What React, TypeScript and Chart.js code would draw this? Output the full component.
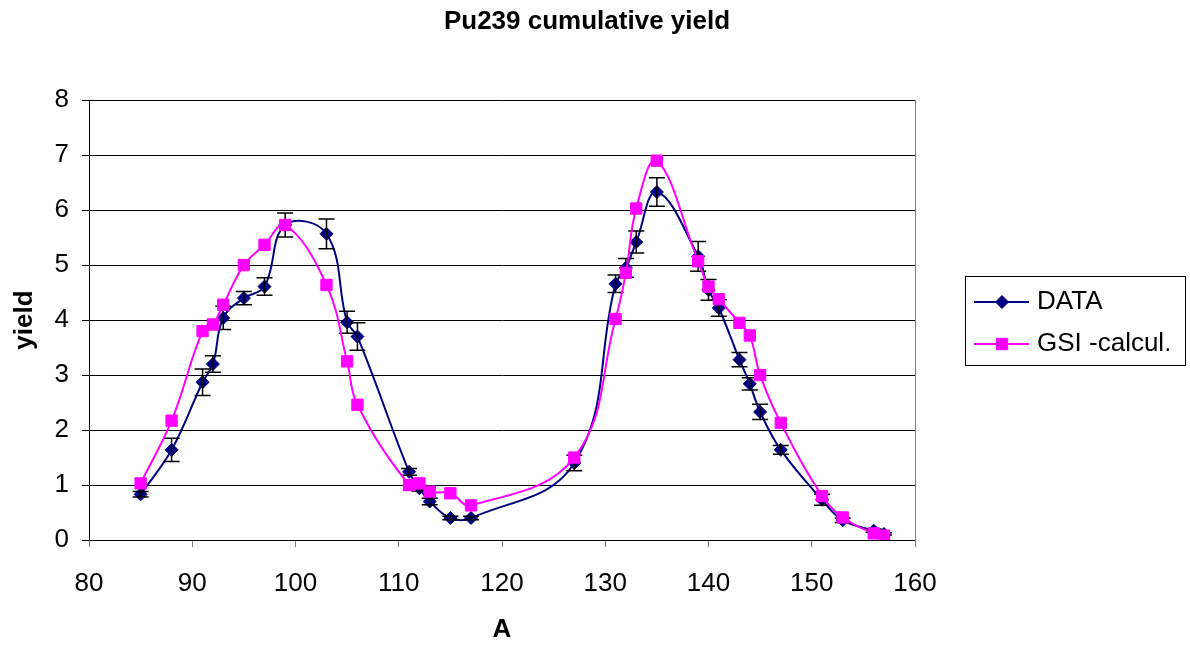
import { useEffect, useRef } from "react";
import { Chart, registerables } from "chart.js";

Chart.register(...registerables);

// ---- data ----
const massNumbers = [
  85, 88, 91, 92, 93, 95, 97, 99, 103, 105, 106, 111, 112, 113, 115, 117, 127,
  131, 132, 133, 135, 139, 140, 141, 143, 144, 145, 147, 151, 153, 156, 157,
];
const dataYield = [
  0.83, 1.64, 2.87, 3.2, 4.04, 4.4, 4.61, 5.73, 5.57, 3.96, 3.7, 1.24, 0.94, 0.7,
  0.4, 0.4, 1.4, 4.66, 4.95, 5.42, 6.33, 5.16, 4.55, 4.22, 3.28, 2.84, 2.33, 1.64,
  0.73, 0.36, 0.17, 0.11,
];
const dataError = [
  0.05, 0.21, 0.24, 0.15, 0.21, 0.12, 0.16, 0.22, 0.27, 0.2, 0.25, 0.06, 0.05,
  0.06, 0.03, 0.03, 0.14, 0.16, 0.17, 0.2, 0.26, 0.27, 0.19, 0.15, 0.13, 0.11,
  0.14, 0.08, 0.1, 0.04, 0.03, 0.02,
];
const gsiYield = [
  1.03, 2.17, 3.8, 3.92, 4.28, 5.0, 5.37, 5.73, 4.64, 3.25, 2.46, 1.0, 1.03, 0.88,
  0.85, 0.63, 1.5, 4.02, 4.86, 6.03, 6.9, 5.07, 4.61, 4.38, 3.95, 3.72, 3.0, 2.13,
  0.8, 0.41, 0.12, 0.08,
];
const seriesLabels = ["DATA", "GSI -calcul."];
const titleText = "Pu239 cumulative yield";
const xTitle = "A";
const yTitle = "yield";
const xMin = 80;
const xMax = 160;
const xStep = 10;
const yMin = 0;
const yMax = 8;
const yStep = 1;

const NAVY = "#000080";
const MAGENTA = "#FF00FF";
const FONT = "'Liberation Sans', Arial, sans-serif";

function drawMarker(ctx: CanvasRenderingContext2D, style: string, x: number, y: number, r: number, color: string) {
  ctx.save();
  ctx.fillStyle = color;
  ctx.strokeStyle = color;
  ctx.lineWidth = 1;
  ctx.beginPath();
  if (style === "rectRot") {
    ctx.moveTo(x - r, y);
    ctx.lineTo(x, y - r);
    ctx.lineTo(x + r, y);
    ctx.lineTo(x, y + r);
    ctx.closePath();
  } else {
    const s = Math.SQRT1_2 * r;
    ctx.rect(x - s, y - s, 2 * s, 2 * s);
  }
  ctx.fill();
  ctx.stroke();
  ctx.restore();
}

const errorBarPlugin = {
  id: "errorBars",
  afterDatasetDraw(chart: any, args: any) {
    if (args.index !== 0) return;
    const { ctx, scales } = chart;
    const xs = scales.x;
    const ys = scales.y;
    ctx.save();
    ctx.strokeStyle = "#000000";
    ctx.lineWidth = 1.5;
    massNumbers.forEach((a, i) => {
      const px = xs.getPixelForValue(a);
      const top = ys.getPixelForValue(dataYield[i] + dataError[i]);
      const bot = ys.getPixelForValue(dataYield[i] - dataError[i]);
      ctx.beginPath();
      ctx.moveTo(px, top);
      ctx.lineTo(px, bot);
      ctx.moveTo(px - 8, top);
      ctx.lineTo(px + 8, top);
      ctx.moveTo(px - 8, bot);
      ctx.lineTo(px + 8, bot);
      ctx.stroke();
    });
    ctx.restore();
  },
};

const boxLegendPlugin = {
  id: "boxLegend",
  afterDraw(chart: any) {
    const { ctx, chartArea } = chart;
    const x0 = Math.round(chartArea.right) + 50;
    const y0 = 276;
    const w = 220;
    const h = 89;
    ctx.save();
    ctx.fillStyle = "#ffffff";
    ctx.fillRect(x0, y0, w, h);
    ctx.strokeStyle = "#000000";
    ctx.lineWidth = 1;
    ctx.strokeRect(x0 + 0.5, y0 + 0.5, w, h);
    chart.data.datasets.forEach((ds: any, i: number) => {
      const cy = y0 + 26 + i * 42;
      ctx.strokeStyle = ds.borderColor;
      ctx.lineWidth = 2;
      ctx.beginPath();
      ctx.moveTo(x0 + 9, cy);
      ctx.lineTo(x0 + 64, cy);
      ctx.stroke();
      drawMarker(ctx, ds.pointStyle, x0 + 37, cy, ds.pointRadius, ds.backgroundColor);
      ctx.fillStyle = "#000000";
      ctx.font = `26px ${FONT}`;
      ctx.textAlign = "left";
      ctx.textBaseline = "middle";
      ctx.fillText(ds.label, x0 + 72, cy);
    });
    ctx.restore();
  },
};

export default function App() {
  const canvasRef = useRef<HTMLCanvasElement | null>(null);

  useEffect(() => {
    document.body.style.margin = "0";
    const canvas = canvasRef.current;
    if (!canvas) return;
    const chart = new Chart(canvas, {
      type: "line",
      data: {
        datasets: [
          {
            label: seriesLabels[0],
            data: massNumbers.map((a, i) => ({ x: a, y: dataYield[i] })),
            borderColor: NAVY,
            backgroundColor: NAVY,
            borderWidth: 2,
            pointStyle: "rectRot",
            pointRadius: 6.5,
            pointBorderWidth: 1,
            tension: 0.4,
            fill: false,
            order: 2,
          },
          {
            label: seriesLabels[1],
            data: massNumbers.map((a, i) => ({ x: a, y: gsiYield[i] })),
            borderColor: MAGENTA,
            backgroundColor: MAGENTA,
            borderWidth: 2,
            pointStyle: "rect",
            pointRadius: 8,
            pointBorderWidth: 1,
            tension: 0.4,
            fill: false,
            order: 1,
          },
        ],
      },
      options: {
        responsive: false,
        animation: false,
        devicePixelRatio: 1,
        layout: { padding: { left: 0, right: 16, top: 0, bottom: 0 } },
        plugins: {
          legend: { display: false },
          tooltip: { enabled: false },
          title: {
            display: true,
            text: titleText,
            color: "#000000",
            font: { family: FONT, size: 26, weight: "bold" },
            padding: { top: 6, bottom: 63 },
          },
        },
        scales: {
          x: {
            type: "linear",
            position: "bottom",
            min: xMin,
            max: xMax,
            afterFit(scale: any) {
              scale.height = 106;
            },
            ticks: {
              stepSize: xStep,
              color: "#000000",
              font: { family: FONT, size: 26 },
              padding: 21,
              maxRotation: 0,
            },
            grid: {
              drawOnChartArea: false,
              tickLength: 7,
              color: "#808080",
            },
            border: { color: "#000000", width: 1 },
            title: {
              display: true,
              text: xTitle,
              color: "#000000",
              font: { family: FONT, size: 26, weight: "bold" },
              padding: { top: 0, bottom: 1 },
            },
          },
          y: {
            type: "linear",
            position: "left",
            min: yMin,
            max: yMax,
            afterFit(scale: any) {
              scale.width = 89;
            },
            ticks: {
              stepSize: yStep,
              color: "#000000",
              font: { family: FONT, size: 26 },
              padding: 13,
            },
            grid: {
              color: "#000000",
              tickLength: 7,
              lineWidth: 1,
            },
            border: { color: "#000000", width: 1 },
            title: {
              display: true,
              text: yTitle,
              color: "#000000",
              font: { family: FONT, size: 26, weight: "bold" },
              padding: { top: 9, bottom: 0 },
            },
          },
          yRight: {
            type: "linear",
            position: "right",
            display: true,
            afterFit(scale: any) {
              scale.width = 259;
            },
            ticks: { display: false },
            grid: { display: false, drawTicks: false },
            border: { display: true, color: "#808080", width: 1 },
          },
        },
      },
      plugins: [errorBarPlugin, boxLegendPlugin],
    } as any);
    return () => chart.destroy();
  }, []);

  return (
    <div style={{ width: 1190, height: 646, background: "#ffffff" }}>
      <canvas ref={canvasRef} width={1190} height={646} style={{ display: "block" }} />
    </div>
  );
}
